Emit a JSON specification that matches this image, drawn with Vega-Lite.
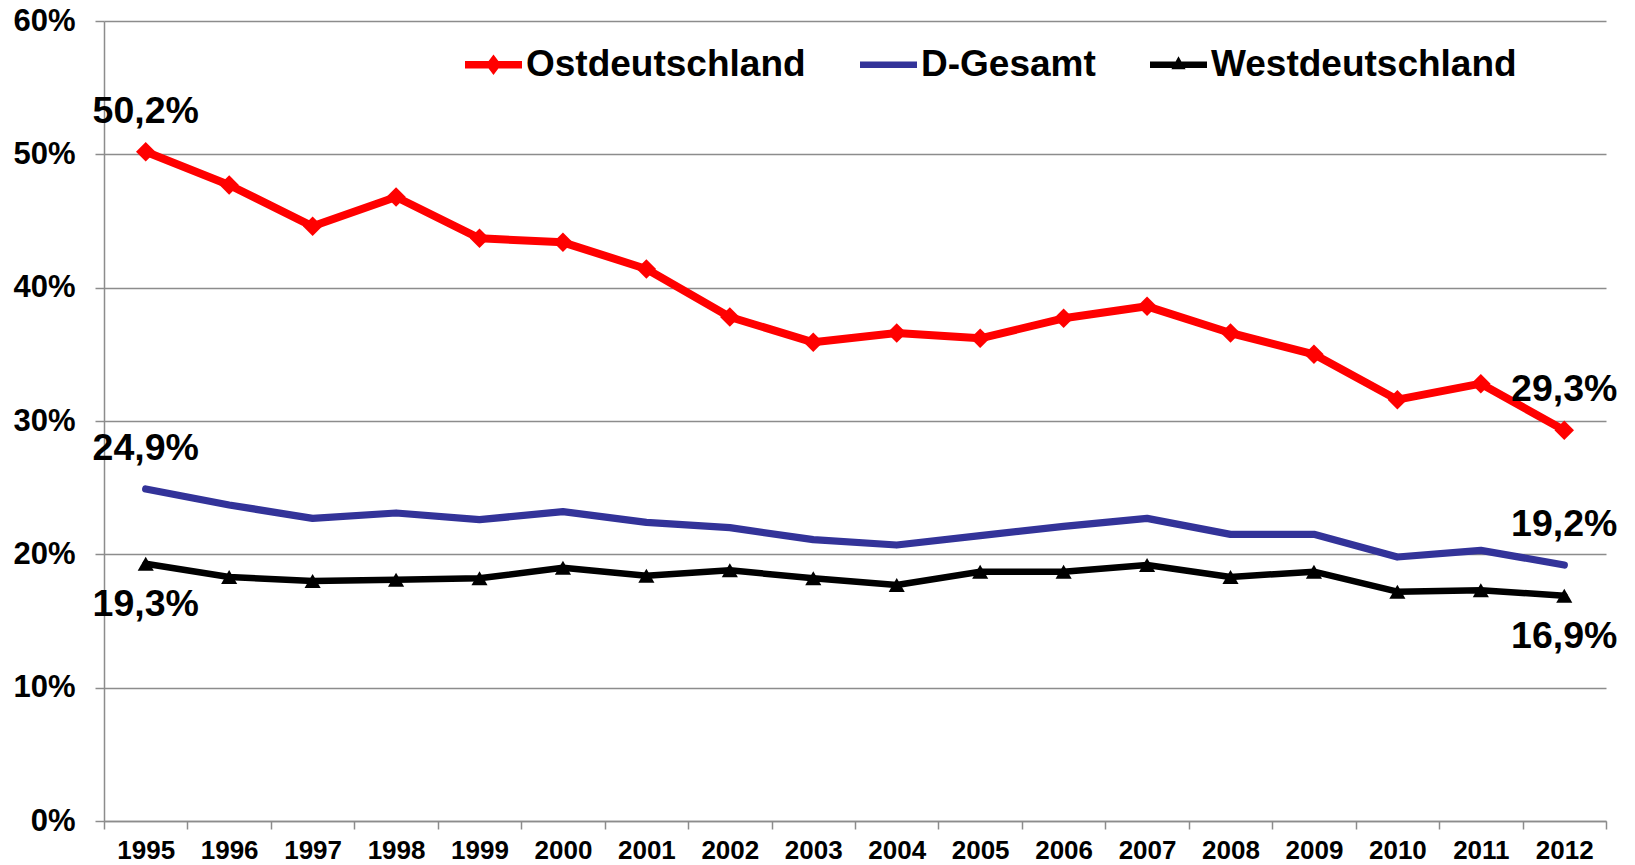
{
  "$schema": "https://vega.github.io/schema/vega-lite/v6.json",
  "width": 1502,
  "height": 800,
  "autosize": {"type": "none"},
  "padding": {"left": 104, "top": 21, "right": 29, "bottom": 44},
  "background": "white",
  "config": {
    "view": {"stroke": null},
    "font": "Liberation Sans",
    "locale": {"number": {"decimal": ",", "thousands": ".", "grouping": [3], "currency": ["", " €"]}}
  },
  "data": {"values": [
    {"year": "1995", "series": "Ostdeutschland", "value": 0.502},
    {"year": "1996", "series": "Ostdeutschland", "value": 0.477},
    {"year": "1997", "series": "Ostdeutschland", "value": 0.446},
    {"year": "1998", "series": "Ostdeutschland", "value": 0.468},
    {"year": "1999", "series": "Ostdeutschland", "value": 0.437},
    {"year": "2000", "series": "Ostdeutschland", "value": 0.434},
    {"year": "2001", "series": "Ostdeutschland", "value": 0.414},
    {"year": "2002", "series": "Ostdeutschland", "value": 0.378},
    {"year": "2003", "series": "Ostdeutschland", "value": 0.359},
    {"year": "2004", "series": "Ostdeutschland", "value": 0.366},
    {"year": "2005", "series": "Ostdeutschland", "value": 0.362},
    {"year": "2006", "series": "Ostdeutschland", "value": 0.377},
    {"year": "2007", "series": "Ostdeutschland", "value": 0.386},
    {"year": "2008", "series": "Ostdeutschland", "value": 0.366},
    {"year": "2009", "series": "Ostdeutschland", "value": 0.350},
    {"year": "2010", "series": "Ostdeutschland", "value": 0.316},
    {"year": "2011", "series": "Ostdeutschland", "value": 0.328},
    {"year": "2012", "series": "Ostdeutschland", "value": 0.293},
    {"year": "1995", "series": "D-Gesamt", "value": 0.249},
    {"year": "1996", "series": "D-Gesamt", "value": 0.237},
    {"year": "1997", "series": "D-Gesamt", "value": 0.227},
    {"year": "1998", "series": "D-Gesamt", "value": 0.231},
    {"year": "1999", "series": "D-Gesamt", "value": 0.226},
    {"year": "2000", "series": "D-Gesamt", "value": 0.232},
    {"year": "2001", "series": "D-Gesamt", "value": 0.224},
    {"year": "2002", "series": "D-Gesamt", "value": 0.220},
    {"year": "2003", "series": "D-Gesamt", "value": 0.211},
    {"year": "2004", "series": "D-Gesamt", "value": 0.207},
    {"year": "2005", "series": "D-Gesamt", "value": 0.214},
    {"year": "2006", "series": "D-Gesamt", "value": 0.221},
    {"year": "2007", "series": "D-Gesamt", "value": 0.227},
    {"year": "2008", "series": "D-Gesamt", "value": 0.215},
    {"year": "2009", "series": "D-Gesamt", "value": 0.215},
    {"year": "2010", "series": "D-Gesamt", "value": 0.198},
    {"year": "2011", "series": "D-Gesamt", "value": 0.203},
    {"year": "2012", "series": "D-Gesamt", "value": 0.192},
    {"year": "1995", "series": "Westdeutschland", "value": 0.193},
    {"year": "1996", "series": "Westdeutschland", "value": 0.183},
    {"year": "1997", "series": "Westdeutschland", "value": 0.180},
    {"year": "1998", "series": "Westdeutschland", "value": 0.181},
    {"year": "1999", "series": "Westdeutschland", "value": 0.182},
    {"year": "2000", "series": "Westdeutschland", "value": 0.190},
    {"year": "2001", "series": "Westdeutschland", "value": 0.184},
    {"year": "2002", "series": "Westdeutschland", "value": 0.188},
    {"year": "2003", "series": "Westdeutschland", "value": 0.182},
    {"year": "2004", "series": "Westdeutschland", "value": 0.177},
    {"year": "2005", "series": "Westdeutschland", "value": 0.187},
    {"year": "2006", "series": "Westdeutschland", "value": 0.187},
    {"year": "2007", "series": "Westdeutschland", "value": 0.192},
    {"year": "2008", "series": "Westdeutschland", "value": 0.183},
    {"year": "2009", "series": "Westdeutschland", "value": 0.187},
    {"year": "2010", "series": "Westdeutschland", "value": 0.172},
    {"year": "2011", "series": "Westdeutschland", "value": 0.173},
    {"year": "2012", "series": "Westdeutschland", "value": 0.169}
  ]},
  "encoding": {
    "x": {
      "field": "year", "type": "ordinal", "bandPosition": 0.5,
      "scale": {"type": "band", "paddingInner": 0, "paddingOuter": 0},
      "axis": {
        "title": null, "labelAngle": 0, "tickBand": "extent",
        "labelFont": "Liberation Sans", "labelFontSize": 26, "labelFontWeight": "bold", "labelColor": "black",
        "labelPadding": 8, "tickSize": 8, "tickColor": "#8c8c8c", "tickWidth": 1.5,
        "domainColor": "#8c8c8c", "domainWidth": 1.5, "grid": false
      }
    },
    "y": {
      "field": "value", "type": "quantitative",
      "scale": {"domain": [0, 0.6], "nice": false, "zero": true},
      "axis": {
        "title": null, "values": [0, 0.1, 0.2, 0.3, 0.4, 0.5, 0.6], "format": ".0%",
        "labelFont": "Liberation Sans", "labelFontSize": 31, "labelFontWeight": "bold", "labelColor": "black",
        "labelPadding": 20, "tickSize": 9, "tickColor": "#8c8c8c", "tickWidth": 1.5,
        "domainColor": "#8c8c8c", "domainWidth": 1.5,
        "grid": true, "gridColor": "#8c8c8c", "gridWidth": 1.5
      }
    }
  },
  "resolve": {"legend": {"color": "independent", "shape": "independent", "strokeWidth": "independent"}},
  "layer": [
    {
      "mark": {"type": "line", "strokeJoin": "round", "strokeCap": "round"},
      "encoding": {
        "color": {"field": "series", "type": "nominal",
          "scale": {"domain": ["Ostdeutschland", "D-Gesamt", "Westdeutschland"], "range": ["#ff0000", "#333399", "#000000"]},
          "legend": null},
        "strokeWidth": {"field": "series", "type": "nominal",
          "scale": {"domain": ["Ostdeutschland", "D-Gesamt", "Westdeutschland"], "range": [8, 6.5, 6.5]},
          "legend": null}
      }
    },
    {
      "transform": [{"filter": "datum.series === 'Ostdeutschland'"}],
      "mark": {"type": "point", "shape": "diamond", "filled": true, "color": "#ff0000", "size": 380, "opacity": 1}
    },
    {
      "transform": [{"filter": "datum.series === 'Westdeutschland'"}],
      "mark": {"type": "point", "shape": "triangle-up", "filled": true, "color": "#000000", "size": 260, "opacity": 1}
    },
    {
      "mark": {"type": "point", "filled": true, "opacity": 0, "size": 3249},
      "encoding": {
        "color": {"field": "series", "type": "nominal",
          "scale": {"domain": ["Ostdeutschland", "D-Gesamt", "Westdeutschland"], "range": ["#ff0000", "#333399", "#000000"]},
          "legend": {
            "title": null, "orient": "none", "legendX": 361, "legendY": 15, "direction": "horizontal",
            "padding": 0, "columnPadding": 54, "labelOffset": 4,
            "labelFont": "Liberation Sans", "labelFontSize": 37, "labelFontWeight": "bold", "labelColor": "black",
            "symbolOpacity": 1, "symbolStrokeWidth": 0, "symbolSize": 3249, "labelLimit": 500
          }},
        "shape": {"field": "series", "type": "nominal",
          "scale": {"domain": ["Ostdeutschland", "D-Gesamt", "Westdeutschland"],
            "range": [
              "M-1,-0.13L1,-0.13L1,0.13L-1,0.13Z M0,-0.36L0.27,0L0,0.36L-0.27,0Z",
              "M-1,-0.11L1,-0.11L1,0.11L-1,0.11Z",
              "M-1,-0.11L1,-0.11L1,0.11L-1,0.11Z M0,-0.3L0.25,0.16L-0.25,0.16Z"
            ]},
          "legend": {
            "title": null, "orient": "none", "legendX": 361, "legendY": 15, "direction": "horizontal",
            "padding": 0, "columnPadding": 54, "labelOffset": 4,
            "labelFont": "Liberation Sans", "labelFontSize": 37, "labelFontWeight": "bold", "labelColor": "black",
            "symbolOpacity": 1, "symbolStrokeWidth": 0, "symbolSize": 3249, "labelLimit": 500
          }}
      }
    },
    {
      "transform": [{"filter": "(datum.year === '1995' || datum.year === '2012') && datum.series !== 'Westdeutschland'"}],
      "mark": {"type": "text", "dy": -40, "align": "center", "baseline": "middle", "font": "Liberation Sans", "fontSize": 37.5, "fontWeight": "bold", "color": "black"},
      "encoding": {"text": {"field": "value", "type": "quantitative", "format": ".1%"}}
    },
    {
      "transform": [{"filter": "(datum.year === '1995' || datum.year === '2012') && datum.series === 'Westdeutschland'"}],
      "mark": {"type": "text", "dy": 41, "align": "center", "baseline": "middle", "font": "Liberation Sans", "fontSize": 37.5, "fontWeight": "bold", "color": "black"},
      "encoding": {"text": {"field": "value", "type": "quantitative", "format": ".1%"}}
    }
  ]
}
